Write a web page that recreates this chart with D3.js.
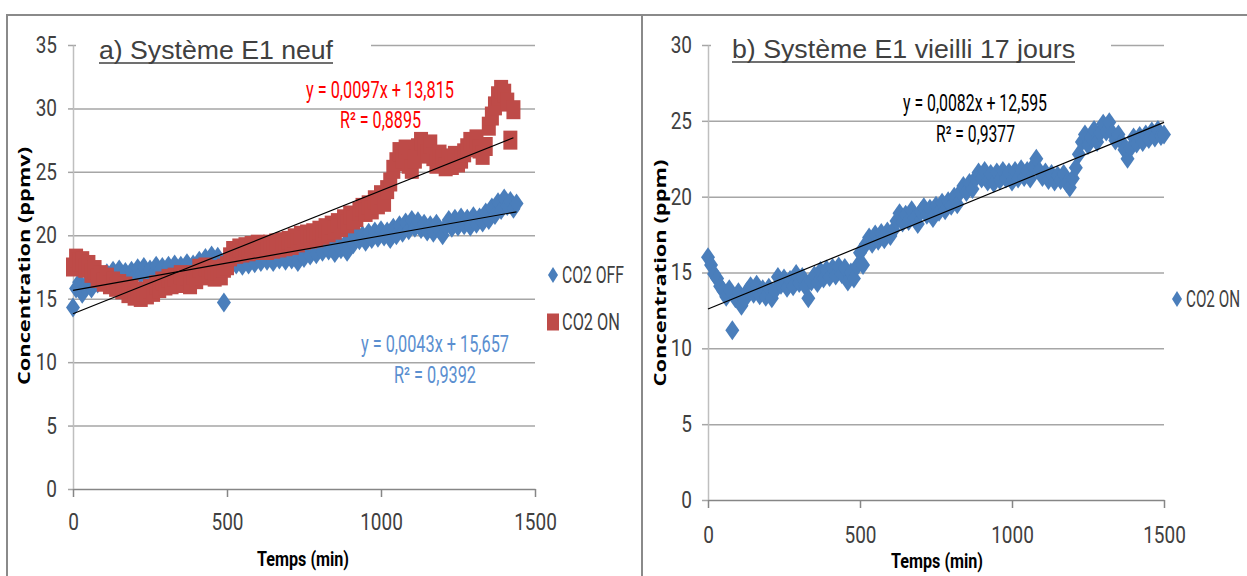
<!DOCTYPE html>
<html>
<head>
<meta charset="utf-8">
<script src="https://d3js.org/d3.v7.min.js"></script>
<style>
  body { margin: 0; background: #fff; }
  text { font-family: "Liberation Sans Narrow", "Arial Narrow", "Roboto", sans-serif; }
</style>
</head>
<body>
<script>
// ---- data ----
// readings every 10 minutes, starting at t = 0
const sampleStep = 10;

// a) new system, CO2 OFF (ppmv)
const co2OffA = [
  14.3, 15.8, 16.3, 15.4, 15.9, 16.4, 15.8, 16.6, 16.2, 16.9,
  16.4, 17.0, 16.5, 17.2, 16.7, 17.3, 16.8, 17.1, 16.6, 17.2,
  16.8, 17.4, 16.9, 17.5, 17.0, 17.3, 16.9, 17.6, 17.1, 17.5,
  17.0, 17.6, 17.2, 17.7, 17.1, 17.6, 17.3, 17.8, 17.2, 17.7,
  17.4, 18.0, 17.5, 18.2, 17.8, 18.4, 17.9, 18.3, 17.8, 14.7,
  18.1, 17.6, 18.3, 17.7, 18.2, 17.6, 18.1, 17.7, 18.3, 17.8,
  18.4, 17.9, 18.5, 18.0, 18.4, 17.9, 18.6, 18.1, 18.5, 18.0,
  18.6, 18.1, 18.4, 17.9, 18.5, 18.2, 18.9, 18.4, 19.0, 18.5,
  19.2, 18.7, 19.3, 18.8, 19.1, 18.6, 19.4, 18.9, 19.2, 18.7,
  19.8, 19.3, 20.1, 19.6, 20.0, 19.5, 20.2, 19.7, 20.3, 19.8,
  20.4, 19.9, 20.3, 19.7, 20.6, 20.0, 20.8, 20.2, 21.0, 20.4,
  21.2, 20.6, 21.1, 20.5, 20.9, 20.3, 20.8, 20.2, 20.9, 20.4,
  20.0, 20.7, 21.2, 20.6, 21.3, 20.7, 21.4, 20.8, 21.3, 20.7,
  21.5, 20.9, 21.4, 21.0, 21.8, 21.2, 22.2, 21.6, 22.6, 22.0,
  22.9, 22.3, 22.7, 22.1, 22.5];

// a) new system, CO2 ON (ppmv)
const co2OnA = [
  17.5, 18.2, 17.9, 18.0, 17.4, 17.7, 17.0, 17.3, 16.6, 16.9,
  16.3, 16.7, 16.1, 16.4, 15.9, 16.2, 15.7, 16.0, 15.4, 15.8,
  15.2, 15.6, 15.1, 15.5, 15.3, 15.8, 15.5, 16.1, 15.8, 16.4,
  16.0, 16.6, 16.1, 16.7, 16.2, 16.9, 16.3, 16.8, 16.1, 16.9,
  16.5, 17.4, 16.8, 17.5, 17.0, 17.3, 16.7, 17.2, 16.8, 17.4,
  17.6, 18.3, 18.8, 18.5, 19.0, 18.6, 19.1, 18.7, 19.2, 18.8,
  19.3, 18.9, 19.2, 18.8, 19.3, 18.9, 19.4, 19.0, 19.5, 19.1,
  19.6, 19.2, 19.8, 19.4, 20.0, 19.6, 20.1, 19.7, 20.2, 19.8,
  20.4, 20.0, 20.6, 20.2, 20.8, 20.4, 21.0, 20.6, 21.3, 20.9,
  21.6, 21.2, 21.4, 21.9, 22.2, 21.8, 22.4, 22.0, 22.8, 22.4,
  23.2, 22.6, 23.6, 24.2, 25.2, 25.8, 26.6, 26.0, 26.8, 25.6,
  25.2, 26.0, 26.9, 27.4, 27.0, 26.4, 27.2, 26.2, 25.6, 26.4,
  26.0, 25.4, 26.1, 25.5, 26.3, 25.7, 26.0, 26.5, 26.9, 27.4,
  27.0, 27.6, 26.8, 26.3, 27.0, 28.6, 29.4, 30.2, 31.0, 31.5,
  31.2, 30.5, 27.5, 29.9];

// b) system aged 17 days, CO2 ON (ppm)
const co2OnB = [
  16.0, 15.5, 14.9, 14.6, 14.1, 13.8, 13.4, 13.9, 11.2, 13.3,
  13.7, 12.8, 13.2, 13.8, 14.1, 13.6, 14.2, 13.5, 13.9, 13.4,
  14.0, 13.3, 13.8, 14.7, 14.2, 14.6, 14.0, 14.5, 14.1, 14.9,
  14.3, 14.7, 14.1, 13.3, 14.4, 14.8, 14.3, 15.1, 14.6, 15.2,
  14.7, 15.3, 14.8, 15.4, 14.9, 15.3, 14.4, 15.0, 14.6, 15.4,
  16.3, 15.5, 16.9, 17.3, 16.9, 17.5, 17.1, 17.6, 17.2, 17.7,
  17.4, 17.8, 18.4, 18.9, 18.3, 18.8, 18.4, 19.1, 18.6, 18.2,
  19.0, 19.3, 18.8, 19.2, 18.6, 19.4, 19.0, 19.6, 19.1, 19.7,
  19.4, 20.0, 19.5, 20.3, 20.7, 20.3, 20.9, 20.5, 21.2, 21.6,
  21.2, 21.7, 21.0, 21.5, 20.9, 21.6, 21.1, 21.7, 21.2, 21.6,
  21.0, 21.7, 21.2, 21.8, 21.3, 21.7, 21.2, 22.0, 22.5, 21.7,
  21.3, 21.6, 21.1, 21.5, 21.0, 21.4, 21.1, 21.5, 20.9, 20.6,
  21.2, 21.9, 22.8, 23.6, 24.1, 23.4, 23.9, 24.4, 23.6, 24.2,
  24.8, 24.3, 24.9, 24.2, 23.7, 24.1, 23.6, 23.1, 22.5, 23.2,
  23.9, 23.5, 24.0, 23.6, 24.1, 23.8, 24.3, 23.9, 24.4, 24.0,
  24.1];

// linear fits [slope, intercept] and their labels
const fitOffA = [0.0043, 15.657];
const fitOnA = [0.0097, 13.815];
const fitOnB = [0.0082, 12.595];
const eqOffA = ["y = 0,0043x + 15,657", "R² = 0,9392"];
const eqOnA = ["y = 0,0097x + 13,815", "R² = 0,8895"];
const eqOnB = ["y = 0,0082x + 12,595", "R² = 0,9377"];

const xTicks = [0, 500, 1000, 1500];
const yTicksA = [0, 5, 10, 15, 20, 25, 30, 35];
const yTicksB = [0, 5, 10, 15, 20, 25, 30];

// ---- drawing ----
const W = 1247, H = 576;
const k = 1.22; // the original lettering is stretched vertically
const blue = "#4a7ebb", red = "#be4b48";

const svg = d3.select("body").append("svg")
  .attr("width", W).attr("height", H);

function txt(g, x, y, s, o) {
  const t = g.append("text")
    .attr("transform", `translate(${x},${y}) scale(1,${o.ky || k})`)
    .attr("font-size", o.size)
    .attr("fill", o.fill || "#404040")
    .attr("text-anchor", o.anchor || "start")
    .text(s);
  if (o.family) t.style("font-family", o.family);
  if (o.weight) t.attr("font-weight", o.weight);
  if (o.len) t.attr("textLength", o.len).attr("lengthAdjust", "spacingAndGlyphs");
  return t;
}

const diamond = "M0,-10L7,0L0,10L-7,0Z";

function panel(p) {
  const g = svg.append("g");
  const x = d3.scaleLinear().domain([0, 1500]).range([p.x0, p.x1]);
  const y = d3.scaleLinear().domain([0, p.yMax]).range([p.yb, p.yt]);

  // gridlines
  g.append("g")
    .attr("transform", `translate(${p.x0},0)`)
    .call(d3.axisLeft(y).tickValues(p.yTicks.slice(1)).tickSize(-(p.x1 - p.x0)).tickFormat(""))
    .call(a => a.select(".domain").remove())
    .call(a => a.selectAll("line").attr("stroke", "#a6a6a6").attr("stroke-width", 1.5));

  // title box hides the top gridline
  g.append("rect").attr("x", p.x0 + 3).attr("y", p.yt - 8)
    .attr("width", p.boxEnd - p.x0 - 3).attr("height", 16).attr("fill", "#fff");

  // y axis
  const ya = g.append("g")
    .attr("transform", `translate(${p.x0},0)`)
    .call(d3.axisLeft(y).tickValues(p.yTicks).tickSize(p.ytick).tickPadding(p.ypad).tickSizeOuter(0));
  ya.select(".domain").attr("stroke", "#bfbfbf").attr("stroke-width", 1.5);
  ya.selectAll("line").attr("stroke", "#a6a6a6").attr("stroke-width", 1.5);
  ya.selectAll("text").attr("font-size", 19).attr("fill", "#404040")
    .attr("dy", "0.32em").attr("transform", `scale(1,${k})`);

  // x axis
  const xa = g.append("g")
    .attr("transform", `translate(0,${p.yb})`)
    .call(d3.axisBottom(x).tickValues(xTicks).tickFormat(d3.format("d")).tickSize(8).tickSizeOuter(0));
  xa.select(".domain").attr("stroke", "#868686").attr("stroke-width", 1.5);
  xa.selectAll("line").attr("stroke", "#868686").attr("stroke-width", 1.5);
  xa.selectAll("text").attr("font-size", 19).attr("fill", "#404040")
    .attr("y", p.xlab / k).attr("dy", 0).attr("transform", `scale(1,${k})`);

  // points
  p.series.forEach(s => {
    const pts = s.v.map((v, i) => [i * sampleStep, v]);
    const sel = g.append("g").selectAll("path").data(pts).join("path")
      .attr("transform", d => `translate(${x(d[0])},${y(d[1])})`)
      .attr("fill", s.color);
    if (s.shape === "square") sel.attr("d", "M-7,-9.5H7V9.5H-7Z");
    else sel.attr("d", diamond);
  });

  // trend lines over the time span of each series
  p.series.forEach(s => {
    const t0 = 0, t1 = (s.v.length - 1) * sampleStep;
    g.append("line")
      .attr("x1", x(t0)).attr("y1", y(s.fit[0] * t0 + s.fit[1]))
      .attr("x2", x(t1)).attr("y2", y(s.fit[0] * t1 + s.fit[1]))
      .attr("stroke", "#000").attr("stroke-width", 1.2);
  });

  // equations
  p.series.forEach(s => {
    txt(g, s.eqPos[0], s.eqPos[1], s.eq[0], { size: 19, fill: s.eqColor, len: s.eqLen[0] });
    txt(g, s.eqPos[2], s.eqPos[3], s.eq[1], { size: 19, fill: s.eqColor, len: s.eqLen[1] });
  });

  // title
  txt(g, p.title[1], p.title[2], p.title[0], { size: 21, family: "Liberation Sans, Arial, sans-serif", len: p.title[3] });
  g.append("line").attr("x1", p.title[1]).attr("x2", p.title[1] + p.title[3])
    .attr("y1", p.title[2] + 4).attr("y2", p.title[2] + 4)
    .attr("stroke", "#404040").attr("stroke-width", 1.6);

  // axis titles
  g.append("text")
    .attr("transform", `translate(${p.ytitle[1]},${p.ytitle[2]}) rotate(-90)`)
    .attr("text-anchor", "middle").attr("font-size", 16).attr("font-weight", "bold")
    .style("font-family", "Open Sans, DejaVu Sans, sans-serif")
    .attr("textLength", p.ytitle[3]).attr("lengthAdjust", "spacingAndGlyphs")
    .attr("fill", "#000").text(p.ytitle[0]);
  txt(g, p.xtitle[0], p.xtitle[1], "Temps (min)", { size: 16, weight: "bold", fill: "#000", anchor: "middle", len: 92 });

  // legend
  p.legend.forEach(l => {
    if (l.shape === "square") {
      g.append("rect").attr("x", l.x - 6).attr("y", l.y - 8.5).attr("width", 12).attr("height", 17).attr("fill", l.color);
    } else {
      g.append("path").attr("d", "M0,-8L5,0L0,8L-5,0Z").attr("transform", `translate(${l.x},${l.y})`).attr("fill", l.color);
    }
    txt(g, l.x + 9, l.y + 8, l.label, { size: l.size || 19, ky: l.ky, len: l.len });
  });
}

// frame
svg.append("path").attr("d", `M7,${H}V15H${W}`).attr("fill", "none")
  .attr("stroke", "#8a8a8a").attr("stroke-width", 2);
svg.append("line").attr("x1", 642).attr("x2", 642).attr("y1", 15).attr("y2", H)
  .attr("stroke", "#8a8a8a").attr("stroke-width", 2);

panel({
  x0: 73, x1: 535, yt: 45, yb: 489, yMax: 35, yTicks: yTicksA, ytick: 5, ypad: 11, xlab: 41, boxEnd: 371,
  title: ["a) Système E1 neuf", 99, 59, 234],
  ytitle: ["Concentration (ppmv)", 30, 266, 238],
  xtitle: [303, 566],
  series: [
    { v: co2OffA, color: blue, shape: "diamond", fit: fitOffA, eq: eqOffA, eqColor: "#5b8fd0",
      eqPos: [361, 352, 394, 383], eqLen: [148, 82] },
    { v: co2OnA, color: red, shape: "square", fit: fitOnA, eq: eqOnA, eqColor: "#ff0000",
      eqPos: [306, 98, 340, 128], eqLen: [148, 81] }
  ],
  legend: [
    { x: 553, y: 275, shape: "diamond", color: blue, label: "CO2 OFF", len: 62 },
    { x: 553, y: 322, shape: "square", color: red, label: "CO2 ON", len: 58 }
  ]
});

panel({
  x0: 708, x1: 1164, yt: 45, yb: 500, yMax: 30, yTicks: yTicksB, ytick: 6, ypad: 10, xlab: 43, boxEnd: 1111,
  title: ["b) Système E1 vieilli 17 jours", 732, 58, 343],
  ytitle: ["Concentration (ppm)", 666, 273, 227],
  xtitle: [937, 568],
  series: [
    { v: co2OnB, color: blue, shape: "diamond", fit: fitOnB, eq: eqOnB, eqColor: "#000",
      eqPos: [903, 111, 936, 142], eqLen: [144, 79] }
  ],
  legend: [
    { x: 1177, y: 299, shape: "diamond", color: blue, label: "CO2 ON", len: 54, size: 16, ky: 1.45 }
  ]
});
</script>
</body>
</html>
